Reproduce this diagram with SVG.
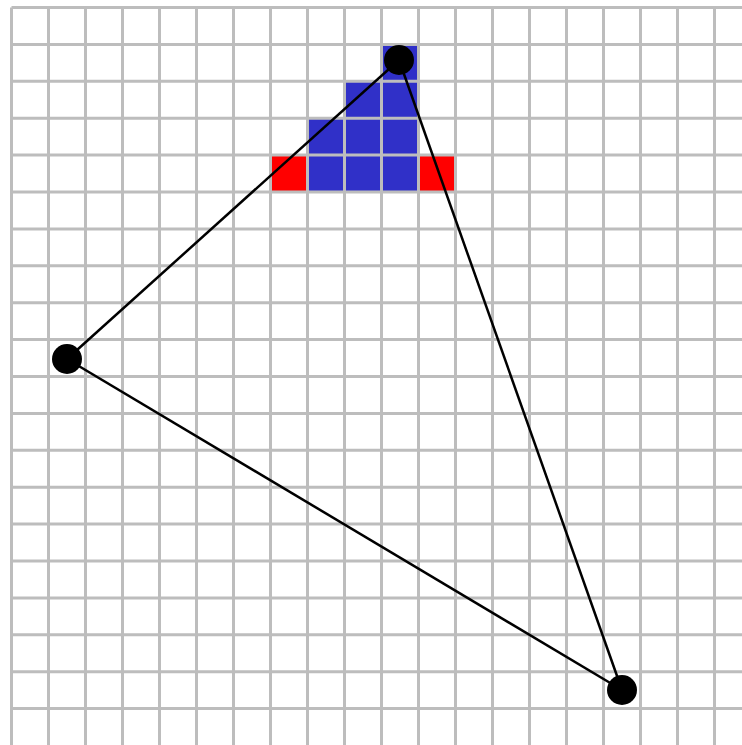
<svg xmlns="http://www.w3.org/2000/svg" width="742" height="745" viewBox="0 0 742 745">
<style>
.g{stroke:#bdbdbd;stroke-width:3;fill:none}
.b{fill:#3030c8}
.r{fill:#ff0000}
.e{stroke:#000;stroke-width:2.5;fill:none}
.v{fill:#000}
</style>
<rect width="742" height="745" fill="#fff"/>
<g id="cells">
<rect class="b" x="381.5" y="44.4" width="37" height="36.9"/>
<rect class="b" x="344.5" y="81.3" width="74" height="36.9"/>
<rect class="b" x="307.5" y="118.2" width="111" height="36.9"/>
<rect class="r" x="270.5" y="155.1" width="37" height="36.9"/>
<rect class="b" x="307.5" y="155.1" width="111" height="36.9"/>
<rect class="r" x="418.5" y="155.1" width="37" height="36.9"/>
</g>
<g id="grid" class="g">
<path d="M11.5 7.5V745M48.5 7.5V745M85.5 7.5V745M122.5 7.5V745M159.5 7.5V745M196.5 7.5V745M233.5 7.5V745M270.5 7.5V745M307.5 7.5V745M344.5 7.5V745M381.5 7.5V745M418.5 7.5V745M455.5 7.5V745M492.5 7.5V745M529.5 7.5V745M566.5 7.5V745M603.5 7.5V745M640.5 7.5V745M677.5 7.5V745M714.5 7.5V745"/>
<path d="M11.5 7.5H742M11.5 44.4H742M11.5 81.3H742M11.5 118.2H742M11.5 155.1H742M11.5 192H742M11.5 228.9H742M11.5 265.8H742M11.5 302.7H742M11.5 339.6H742M11.5 376.5H742M11.5 413.4H742M11.5 450.3H742M11.5 487.2H742M11.5 524.1H742M11.5 561H742M11.5 597.9H742M11.5 634.8H742M11.5 671.7H742M11.5 708.6H742"/>
</g>
<g id="edges">
<line class="e" x1="399" y1="60" x2="67" y2="359"/>
<line class="e" x1="67" y1="359" x2="622" y2="690"/>
<line class="e" x1="622" y1="690" x2="399" y2="60"/>
</g>
<g id="vA"><circle class="v" cx="399" cy="60" r="15"/></g>
<g id="vB"><circle class="v" cx="67" cy="359" r="15"/></g>
<g id="vC"><circle class="v" cx="622" cy="690" r="15"/></g>
</svg>
